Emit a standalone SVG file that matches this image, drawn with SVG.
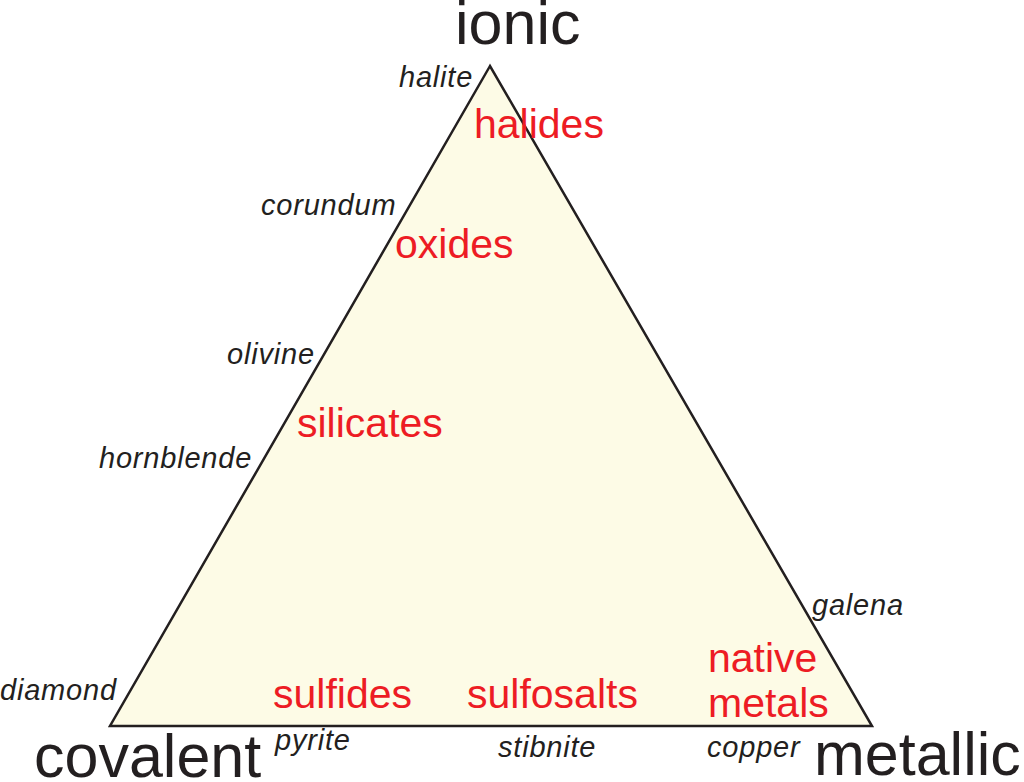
<svg xmlns="http://www.w3.org/2000/svg" width="1024" height="782" viewBox="0 0 1024 782">
<style>
.corner{font-family:"Liberation Sans",Arial,sans-serif;font-size:61px;fill:#231f20}
.mineral{font-family:"Liberation Sans",Arial,sans-serif;font-size:29px;font-style:italic;fill:#231f20;letter-spacing:0.8px}
.cls{font-family:"Liberation Sans",Arial,sans-serif;font-size:41px;fill:#ed1c24}
</style>
<rect width="1024" height="782" fill="#ffffff"/>
<g id="triangle">
<polygon points="490,66 110,726 872,726" fill="#fdfbe6" stroke="#231f20" stroke-width="2.5" stroke-linejoin="miter"/>
</g>
<g id="corners">
<text class="corner" x="455" y="44">ionic</text>
<text class="corner" x="34" y="777">covalent</text>
<text class="corner" x="814" y="775">metallic</text>
</g>
<g id="classes">
<text class="cls" x="474" y="138">halides</text>
<text class="cls" x="395" y="258">oxides</text>
<text class="cls" x="297" y="437">silicates</text>
<text class="cls" x="273" y="708">sulfides</text>
<text class="cls" x="467" y="708">sulfosalts</text>
<text class="cls" x="708" y="672">native</text>
<text class="cls" x="708" y="717">metals</text>
</g>
<g id="minerals">
<text class="mineral" x="399" y="87">halite</text>
<text class="mineral" x="261" y="215">corundum</text>
<text class="mineral" x="227" y="364">olivine</text>
<text class="mineral" x="99" y="468">hornblende</text>
<text class="mineral" x="0" y="700">diamond</text>
<text class="mineral" x="812" y="615">galena</text>
<text class="mineral" x="275" y="750">pyrite</text>
<text class="mineral" x="498" y="757">stibnite</text>
<text class="mineral" x="707" y="757">copper</text>
</g>
</svg>
